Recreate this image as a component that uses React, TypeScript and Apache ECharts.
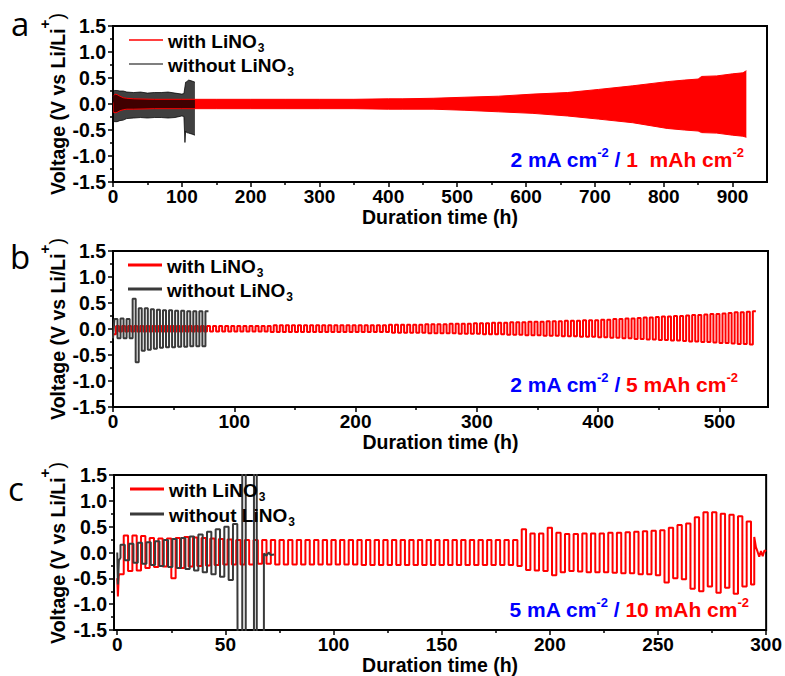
import React, { useEffect, useRef } from 'react';
import * as echarts from 'echarts';

const FONT = '"Liberation Sans", Arial, Helvetica, sans-serif';
const RED = '#ff0000';
const DARK = '#3a3a3a';

// ---------- Panel a : envelope of the densely packed cycles (2 mA cm-2 / 1 mAh cm-2)
const aWithTime = [0, 3, 6, 10, 15, 20, 30, 60, 100, 150, 200, 250, 300, 350, 400, 420, 465, 510, 560, 610, 660, 705, 755, 805, 830, 850, 855, 877, 900, 915, 920];
const aWithUpper = [0.15, 0.19, 0.18, 0.15, 0.12, 0.11, 0.1, 0.09, 0.09, 0.09, 0.09, 0.09, 0.09, 0.09, 0.1, 0.1, 0.11, 0.13, 0.15, 0.19, 0.22, 0.28, 0.35, 0.43, 0.46, 0.48, 0.53, 0.54, 0.58, 0.6, 0.64];
const aWithLower = [-0.15, -0.17, -0.16, -0.13, -0.11, -0.1, -0.1, -0.09, -0.09, -0.09, -0.09, -0.09, -0.09, -0.09, -0.1, -0.1, -0.1, -0.12, -0.15, -0.18, -0.23, -0.29, -0.36, -0.47, -0.5, -0.52, -0.55, -0.56, -0.6, -0.62, -0.64];
const aWithoutTime = [0, 0.8, 2, 6, 10, 15, 20, 30, 40, 50, 60, 70, 80, 90, 100, 103, 104.5, 105.5, 107, 110, 115, 119];
const aWithoutUpper = [0.05, 0.24, 0.26, 0.26, 0.25, 0.25, 0.23, 0.22, 0.23, 0.21, 0.22, 0.22, 0.23, 0.21, 0.19, 0.2, 0.33, 0.42, 0.43, 0.46, 0.44, 0.42];
const aWithoutLower = [-0.88, -0.32, -0.34, -0.34, -0.32, -0.31, -0.28, -0.27, -0.26, -0.27, -0.26, -0.26, -0.27, -0.26, -0.23, -0.24, -0.74, -0.52, -0.55, -0.56, -0.58, -0.6];

// ---------- Panel b : per-cycle plateau voltages (2.5 h per half cycle)
const bHalf = 2.5;
const bWithStart = 0;
const bWithNeg = [
  -0.10, -0.05, -0.05, -0.05, -0.05, -0.05, -0.05, -0.05, -0.05, -0.05,
  -0.05, -0.05, -0.05, -0.05, -0.05, -0.05, -0.05, -0.05, -0.05, -0.05,
  -0.05, -0.05, -0.05, -0.05, -0.05, -0.05, -0.06, -0.06, -0.06, -0.06,
  -0.06, -0.06, -0.06, -0.06, -0.06, -0.06, -0.06, -0.06, -0.06, -0.06,
  -0.06, -0.06, -0.06, -0.06, -0.06, -0.06, -0.07, -0.07, -0.07, -0.07,
  -0.07, -0.07, -0.08, -0.08, -0.08, -0.08, -0.08, -0.09, -0.09, -0.09,
  -0.09, -0.10, -0.10, -0.10, -0.10, -0.11, -0.11, -0.11, -0.12, -0.12,
  -0.12, -0.13, -0.13, -0.13, -0.14, -0.14, -0.14, -0.15, -0.15, -0.15,
  -0.16, -0.16, -0.17, -0.17, -0.18, -0.18, -0.19, -0.19, -0.20, -0.20,
  -0.21, -0.21, -0.22, -0.22, -0.23, -0.24, -0.24, -0.25, -0.25, -0.26,
  -0.27, -0.27, -0.28, -0.29, -0.29, -0.30,
];
const bWithPos = [
  0.06, 0.06, 0.06, 0.06, 0.06, 0.06, 0.06, 0.06, 0.06, 0.06,
  0.06, 0.06, 0.06, 0.06, 0.06, 0.06, 0.06, 0.06, 0.06, 0.06,
  0.06, 0.06, 0.06, 0.06, 0.06, 0.06, 0.07, 0.07, 0.07, 0.07,
  0.07, 0.07, 0.07, 0.07, 0.07, 0.07, 0.07, 0.07, 0.07, 0.07,
  0.07, 0.07, 0.07, 0.07, 0.07, 0.08, 0.08, 0.08, 0.08, 0.08,
  0.08, 0.09, 0.09, 0.09, 0.09, 0.10, 0.10, 0.10, 0.10, 0.11,
  0.11, 0.11, 0.12, 0.12, 0.12, 0.13, 0.13, 0.13, 0.14, 0.14,
  0.14, 0.15, 0.15, 0.15, 0.16, 0.16, 0.16, 0.17, 0.17, 0.17,
  0.18, 0.18, 0.19, 0.19, 0.20, 0.20, 0.21, 0.22, 0.22, 0.23,
  0.24, 0.24, 0.25, 0.25, 0.26, 0.27, 0.27, 0.28, 0.29, 0.29,
  0.30, 0.31, 0.32, 0.32, 0.33, 0.34,
];
const bWithoutStart = 1.2;
const bWithoutLead = [[0, -0.18]];
const bWithoutPos = [0.19, 0.2, 0.19, 0.58, 0.4, 0.4, 0.38, 0.37, 0.36, 0.36, 0.35, 0.35, 0.34, 0.34, 0.34, 0.34];
const bWithoutNeg = [-0.18, -0.18, -0.18, -0.64, -0.42, -0.4, -0.38, -0.36, -0.35, -0.35, -0.34, -0.34, -0.33, -0.33, -0.33];

// ---------- Panel c : per-cycle plateau voltages (2 h per half cycle)
const cHalf = 2;
const cWithStart = 1;
const cWithLead = [[0, -0.5], [0.3, -0.85], [0.7, -0.45]];
const cWithNeg = [
  -0.42, -0.36, -0.35, -0.30, -0.28, -0.27, -0.50, -0.30, -0.27, -0.26,
  -0.25, -0.24, -0.23, -0.23, -0.23, -0.23, -0.22, -0.22, -0.23, -0.23,
  -0.23, -0.23, -0.23, -0.23, -0.23, -0.23, -0.23, -0.23, -0.24, -0.24,
  -0.24, -0.24, -0.24, -0.24, -0.24, -0.24, -0.24, -0.24, -0.24, -0.24,
  -0.24, -0.24, -0.24, -0.24, -0.24, -0.24, -0.26, -0.34, -0.35, -0.36,
  -0.44, -0.38, -0.36, -0.37, -0.38, -0.38, -0.38, -0.39, -0.40, -0.40,
  -0.42, -0.42, -0.44, -0.58, -0.50, -0.52, -0.70, -0.75, -0.66, -0.78,
  -0.68, -0.80, -0.66,
];
const cWithPos = [
  0.33, 0.33, 0.32, 0.28, 0.27, 0.27, 0.28, 0.30, 0.29, 0.28,
  0.27, 0.26, 0.25, 0.24, 0.24, 0.24, 0.24, 0.24, 0.24, 0.24,
  0.24, 0.24, 0.24, 0.24, 0.24, 0.24, 0.24, 0.24, 0.24, 0.24,
  0.24, 0.24, 0.24, 0.24, 0.24, 0.24, 0.24, 0.24, 0.24, 0.24,
  0.24, 0.24, 0.24, 0.24, 0.24, 0.24, 0.45, 0.37, 0.37, 0.48,
  0.38, 0.36, 0.36, 0.37, 0.37, 0.37, 0.38, 0.38, 0.39, 0.40,
  0.41, 0.42, 0.43, 0.48, 0.53, 0.56, 0.68, 0.78, 0.78, 0.75,
  0.73, 0.70, 0.60,
];
const cWithTail = [[293, -0.62], [294.5, -0.62], [294.5, 0.3], [295.3, 0.1], [296, 0.02], [296.8, -0.08], [297.6, 0.03], [298.4, -0.07], [299.2, 0.04], [300, 0.02]];
const cWithoutStart = 1.5;
const cWithoutLead = [[0, 0], [0.3, -0.62], [0.8, -0.15], [1.5, -0.1]];
const cWithoutPos = [0.15, 0.17, 0.19, 0.2, 0.22, 0.24, 0.26, 0.28, 0.31, 0.35, 0.4, 0.45, 0.5, 0.55];
const cWithoutNeg = [-0.15, -0.2, -0.22, -0.24, -0.26, -0.28, -0.3, -0.32, -0.35, -0.38, -0.42, -0.47, -0.53];
const cWithoutTail = [[55.7, -3], [57.8, -3], [57.8, 3], [59.4, 3], [59.4, -3], [63.2, -3], [63.2, 3], [64.5, 3], [64.5, -3], [67.8, -3], [67.8, -0.02], [69, -0.06], [70, 0], [71, -0.05], [72.5, -0.04]];

// ---------- ticks
const aMajorTicks = [0, 100, 200, 300, 400, 500, 600, 700, 800, 900];
const aMinorTicks = [50, 150, 250, 350, 450, 550, 650, 750, 850];
const bMajorTicks = [0, 100, 200, 300, 400, 500];
const bMinorTicks = [50, 150, 250, 350, 450];
const cMajorTicks = [0, 50, 100, 150, 200, 250, 300];
const cMinorTicks = [25, 75, 125, 175, 225, 275];
const xRanges = [[0, 950], [0, 540], [-1.5, 300]];

const legendTexts: Record<string, string> = {
  with: '{m|with LiNO}{s|3}',
  without: '{m|without LiNO}{s|3}',
};
const annotations = [
  { cur: '2 mA cm', cap: '1  mAh cm' },
  { cur: '2 mA cm', cap: '5 mAh cm' },
  { cur: '5 mA cm', cap: '10 mAh cm' },
];
const panelLetters = ['a', 'b', 'c'];
const yNameMain = 'Voltage (V vs Li/Li';
const yNameSup = '+';
const yNameEnd = ')';

function envelope(times: number[], vals: number[]) {
  return times.map((t, i) => [t, vals[i]]);
}

function cycles(start: number, half: number, first: number[], second: number[], lead: number[][], tail: number[][]) {
  const pts: number[][] = lead.map((p) => [p[0], p[1]]);
  for (let i = 0; i < first.length; i++) {
    const a = start + 2 * half * i;
    pts.push([a, first[i]], [a + half, first[i]]);
    if (i < second.length) pts.push([a + half, second[i]], [a + 2 * half, second[i]]);
  }
  tail.forEach((p) => pts.push([p[0], p[1]]));
  return pts;
}

function textWidth(text: string, fontSize: number, fontWeight: string) {
  const t = new (echarts.graphic as any).Text({ style: { text, fontSize, fontWeight, fontFamily: FONT } });
  return t.getBoundingRect().width;
}

export default function App() {
  const ref = useRef<HTMLDivElement>(null);
  useEffect(() => {
    if (!ref.current) return;
    const chart = echarts.init(ref.current, null, { renderer: 'svg', width: 785, height: 676 });

    const grids = [
      { left: 113, top: 26, width: 654, height: 156 },
      { left: 113, top: 251, width: 655, height: 156 },
      { left: 114, top: 475, width: 653, height: 155 },
    ];
    const majors = [aMajorTicks, bMajorTicks, cMajorTicks];
    const minors = [aMinorTicks, bMinorTicks, cMinorTicks];
    const black = '#000';
    const lbl = { fontSize: 19, fontWeight: 'bold', color: black, fontFamily: FONT };

    const xAxis: any[] = [];
    const yAxis: any[] = [];
    for (let p = 0; p < 3; p++) {
      xAxis.push({
        type: 'value', gridIndex: p, min: xRanges[p][0], max: xRanges[p][1], position: 'bottom',
        axisLine: { show: true, onZero: false, lineStyle: { color: black, width: 2 } },
        axisTick: { show: true, customValues: majors[p], length: 5, lineStyle: { color: black, width: 1.5 } },
        axisLabel: { ...lbl, customValues: majors[p], margin: 5 },
        splitLine: { show: false },
        name: 'Duration time (h)', nameLocation: 'middle', nameGap: 24,
        nameTextStyle: { fontSize: 19.5, fontWeight: 'bold', color: black, fontFamily: FONT },
      });
      xAxis.push({
        type: 'value', gridIndex: p, min: xRanges[p][0], max: xRanges[p][1], position: 'bottom',
        axisLine: { show: false, onZero: false },
        axisTick: { show: true, customValues: minors[p], length: 3, lineStyle: { color: black, width: 1.5 } },
        axisLabel: { show: false },
        splitLine: { show: false },
      });
      yAxis.push({
        type: 'value', gridIndex: p, min: -1.5, max: 1.5, interval: 0.5,
        axisLine: { show: true, onZero: false, lineStyle: { color: black, width: 2 } },
        axisTick: { show: true, length: 5, lineStyle: { color: black, width: 1.5 } },
        minorTick: { show: true, splitNumber: 2, length: 3, lineStyle: { color: black, width: 1.5 } },
        splitLine: { show: false }, minorSplitLine: { show: false },
        axisLabel: { ...lbl, fontSize: 19.5, margin: 7, formatter: (v: number) => v.toFixed(1) },
      });
    }

    const lineBase = { type: 'line', symbol: 'none', showSymbol: false, clip: true };
    const series: any[] = [
      { ...lineBase, name: 'a-with', xAxisIndex: 0, yAxisIndex: 0, color: RED, data: envelope(aWithTime, aWithUpper), lineStyle: { color: RED, width: 1 }, areaStyle: { color: RED, opacity: 1 } },
      { ...lineBase, name: 'a-with', xAxisIndex: 0, yAxisIndex: 0, color: RED, data: envelope(aWithTime, aWithLower), lineStyle: { color: RED, width: 1 }, areaStyle: { color: RED, opacity: 1 } },
      { ...lineBase, name: 'a-without', xAxisIndex: 0, yAxisIndex: 0, color: '#555', data: envelope(aWithoutTime, aWithoutUpper), lineStyle: { color: '#000', width: 1, opacity: 0.75 }, areaStyle: { color: '#000', opacity: 0.75 } },
      { ...lineBase, name: 'a-without', xAxisIndex: 0, yAxisIndex: 0, color: '#555', data: envelope(aWithoutTime, aWithoutLower), lineStyle: { color: '#000', width: 1, opacity: 0.75 }, areaStyle: { color: '#000', opacity: 0.75 } },
      { ...lineBase, name: 'b-with', xAxisIndex: 2, yAxisIndex: 1, color: RED, data: cycles(bWithStart, bHalf, bWithNeg, bWithPos, [], []), lineStyle: { color: RED, width: 2 } },
      { ...lineBase, name: 'b-without', xAxisIndex: 2, yAxisIndex: 1, color: DARK, data: cycles(bWithoutStart, bHalf, bWithoutPos, bWithoutNeg, bWithoutLead, []), lineStyle: { color: DARK, width: 2 } },
      { ...lineBase, name: 'c-with', xAxisIndex: 4, yAxisIndex: 2, color: RED, data: cycles(cWithStart, cHalf, cWithNeg, cWithPos, cWithLead, cWithTail), lineStyle: { color: RED, width: 2 } },
      { ...lineBase, name: 'c-without', xAxisIndex: 4, yAxisIndex: 2, color: DARK, data: cycles(cWithoutStart, cHalf, cWithoutPos, cWithoutNeg, cWithoutLead, cWithoutTail), lineStyle: { color: DARK, width: 2 } },
    ];

    const legendRich = {
      m: { color: black, fontSize: 19, fontWeight: 'bold', fontFamily: FONT, lineHeight: 22, verticalAlign: 'top', padding: [3, 0, 0, 0] },
      s: { color: black, fontSize: 12, fontWeight: 'bold', fontFamily: FONT, lineHeight: 12, verticalAlign: 'top', padding: [13, 0, 0, 1] },
    };
    const legendPos = [
      { name: 'a-with', left: 129, top: 29, h: 1.5 },
      { name: 'a-without', left: 129, top: 53, h: 1.5 },
      { name: 'b-with', left: 128, top: 254, h: 3 },
      { name: 'b-without', left: 128, top: 278, h: 3 },
      { name: 'c-with', left: 130, top: 478, h: 3 },
      { name: 'c-without', left: 130, top: 503, h: 3 },
    ];
    const legend = legendPos.map((l) => ({
      data: [l.name], left: l.left, top: l.top, orient: 'vertical', padding: 0,
      icon: 'rect', itemWidth: 34, itemHeight: l.h, selectedMode: false,
      formatter: (n: string) => legendTexts[n.endsWith('without') ? 'without' : 'with'],
      textStyle: { color: black, rich: legendRich },
    }));

    const annRich = {
      b: { fill: '#0000ff', fontSize: 21, fontWeight: 'bold', fontFamily: FONT, lineHeight: 24, verticalAlign: 'bottom' },
      bs: { fill: '#0000ff', fontSize: 13, fontWeight: 'bold', fontFamily: FONT, lineHeight: 17, verticalAlign: 'top' },
      r: { fill: RED, fontSize: 21, fontWeight: 'bold', fontFamily: FONT, lineHeight: 24, verticalAlign: 'bottom' },
      rs: { fill: RED, fontSize: 13, fontWeight: 'bold', fontFamily: FONT, lineHeight: 17, verticalAlign: 'top' },
    };
    const annPos = [[744, 158], [738, 383], [749, 608]];
    const letterPos = [[11, 23.5], [10, 256.5], [8, 488.5]];
    const yNameCenter = [[57.5, 104], [57.5, 329], [57.5, 553]];

    const nameSize = 19.5;
    const wMain = textWidth(yNameMain, nameSize, 'bold');
    const wSup = textWidth(yNameSup, 15, 'bold');
    const wEnd = textWidth(yNameEnd, nameSize, 'normal');
    const wAll = wMain + wSup + wEnd;

    const graphic: any[] = [];
    for (let p = 0; p < 3; p++) {
      graphic.push({
        type: 'text', x: letterPos[p][0], y: letterPos[p][1], silent: true,
        style: { text: panelLetters[p], fill: black, fontSize: 33, fontFamily: '"Open Sans", sans-serif', fontWeight: 'normal', verticalAlign: 'middle', align: 'left' },
      });
      const an = annotations[p];
      graphic.push({
        type: 'text', x: annPos[p][0], y: annPos[p][1], silent: true,
        style: {
          text: `{b|${an.cur}}{bs|-2}{b| / }{r|${an.cap}}{rs|-2}`,
          rich: annRich, align: 'right', verticalAlign: 'middle', fontFamily: FONT,
        },
      });
      graphic.push({
        type: 'group', x: yNameCenter[p][0], y: yNameCenter[p][1], rotation: Math.PI / 2, silent: true,
        children: [
          { type: 'text', x: -wAll / 2, y: 0, style: { text: yNameMain, fill: black, fontSize: nameSize, fontWeight: 'bold', fontFamily: FONT, align: 'left', verticalAlign: 'middle' } },
          { type: 'text', x: -wAll / 2 + wMain, y: -13, style: { text: yNameSup, fill: black, fontSize: 15, fontWeight: 'bold', fontFamily: FONT, align: 'left', verticalAlign: 'middle' } },
          { type: 'text', x: -wAll / 2 + wMain + wSup, y: -1, style: { text: yNameEnd, fill: black, fontSize: nameSize, fontWeight: 'normal', fontFamily: FONT, align: 'left', verticalAlign: 'middle' } },
        ],
      });
    }

    chart.setOption({
      animation: false,
      backgroundColor: '#ffffff',
      textStyle: { fontFamily: FONT },
      grid: grids.map((g) => ({ ...g, show: true, borderColor: black, borderWidth: 2, backgroundColor: 'transparent' })),
      xAxis,
      yAxis,
      legend,
      series,
      graphic,
    });
    return () => chart.dispose();
  }, []);

  return <div ref={ref} style={{ position: 'fixed', left: 0, top: 0, width: 785, height: 676, background: '#fff' }} />;
}
